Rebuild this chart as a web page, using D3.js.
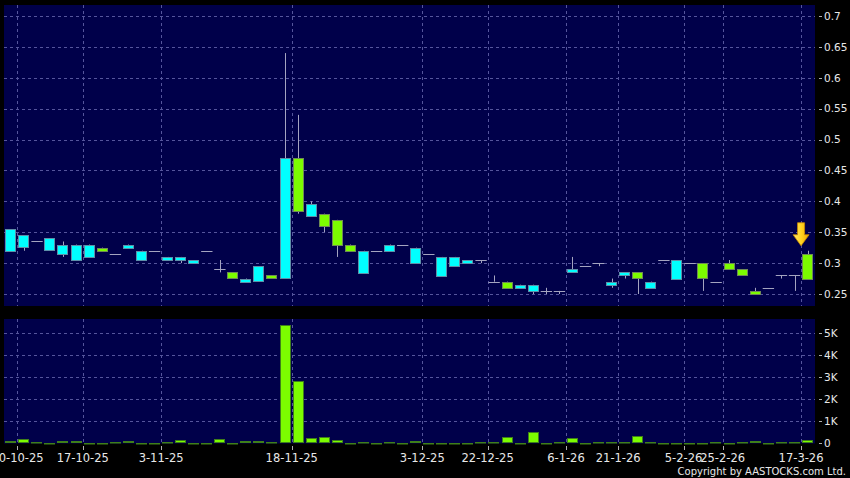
<!DOCTYPE html>
<html><head><meta charset="utf-8">
<script src="https://cdn.jsdelivr.net/npm/d3@7"></script>
<style>html,body{margin:0;padding:0;background:#000;} svg{display:block;}</style>
</head><body>
<script>
// ---- data ----
const opens  = [0.32,0.325,0.335,0.32,0.315,0.305,0.31,0.325,0.315,0.325,0.305,0.32,0.305,0.305,0.30,0.32,0.29,0.285,0.27,0.27,0.28,
                0.275,0.47,0.375,0.38,0.37,0.33,0.285,0.32,0.32,0.33,0.30,0.315,0.28,0.295,0.30,0.305,0.27,0.27,0.26,0.255,0.255,0.255,
                0.285,0.295,0.30,0.265,0.28,0.285,0.26,0.305,0.275,0.30,0.30,0.27,0.30,0.29,0.255,0.26,0.28,0.28,0.315];
const closes = [0.355,0.345,0.335,0.34,0.33,0.33,0.33,0.32,0.315,0.33,0.32,0.32,0.31,0.31,0.305,0.32,0.29,0.275,0.275,0.295,0.275,
                0.47,0.385,0.395,0.36,0.33,0.32,0.32,0.32,0.33,0.33,0.325,0.315,0.31,0.31,0.305,0.305,0.27,0.26,0.265,0.265,0.255,0.255,
                0.29,0.295,0.30,0.27,0.285,0.275,0.27,0.305,0.305,0.30,0.275,0.27,0.29,0.28,0.25,0.26,0.28,0.28,0.275];
const highs  = [0.355,0.345,0.335,0.34,0.335,0.33,0.33,0.325,0.315,0.33,0.32,0.32,0.31,0.31,0.305,0.32,0.305,0.285,0.275,0.295,0.28,
                0.64,0.54,0.40,0.38,0.37,0.33,0.32,0.32,0.33,0.33,0.325,0.315,0.31,0.31,0.305,0.305,0.28,0.27,0.265,0.265,0.26,0.255,
                0.31,0.295,0.30,0.275,0.285,0.285,0.27,0.305,0.305,0.30,0.30,0.27,0.305,0.29,0.26,0.26,0.28,0.28,0.32];
const lows   = [0.32,0.32,0.335,0.32,0.31,0.305,0.31,0.32,0.315,0.325,0.305,0.32,0.305,0.30,0.30,0.32,0.285,0.275,0.27,0.27,0.275,
                0.275,0.38,0.375,0.35,0.31,0.32,0.285,0.32,0.32,0.33,0.30,0.315,0.28,0.295,0.30,0.30,0.27,0.26,0.26,0.25,0.25,0.25,
                0.285,0.295,0.295,0.26,0.275,0.25,0.26,0.305,0.275,0.30,0.255,0.27,0.29,0.28,0.25,0.26,0.275,0.255,0.275];
const volumes = [100,180,60,5,100,90,5,5,60,90,5,5,50,150,5,5,200,5,100,100,50,
                 5380,2830,260,270,150,10,50,30,50,10,90,5,5,20,10,50,70,290,10,515,10,50,
                 260,5,50,50,50,330,50,10,30,20,20,50,10,50,90,10,40,40,170];
const tickIdx    = [1,6,12,22,32,37,43,47,52,55,61];
const tickLabels = ["10-10-25","17-10-25","3-11-25","18-11-25","3-12-25","22-12-25","6-1-26","21-1-26","5-2-26","25-2-26","17-3-26"];
const priceTicks = [0.25,0.3,0.35,0.4,0.45,0.5,0.55,0.6,0.65,0.7];
const volTicks   = [0,1000,2000,3000,4000,5000];
const volTickLabels = ["0","1K","2K","3K","4K","5K"];

// ---- layout ----
const W = 850, H = 478;
const panelL = 4, panelR = 815;
const pTop = 5, pBot = 306;
const vTop = 319, vBot = 443.5;
const BG = "#00004a";

const svg = d3.select("body").append("svg").attr("width", W).attr("height", H)
  .style("background", "#000").style("font-family", "'DejaVu Sans', Verdana, sans-serif");

const n = opens.length;
const x = d3.scaleBand().domain(d3.range(n)).range([4.4, 814.1]).paddingInner(0.13).paddingOuter(0.065);
const bw = x.bandwidth();
const gap = (x.step() - bw) / 2;
const yP = d3.scaleLinear().domain([0.25, 0.7]).range([294, 16]);
const yV = d3.scaleLinear().domain([0, 5000]).range([443.3, 333.3]);

// panels
svg.append("rect").attr("x", panelL).attr("y", pTop).attr("width", panelR - panelL).attr("height", pBot - pTop).attr("fill", BG);
svg.append("rect").attr("x", panelL).attr("y", vTop).attr("width", panelR - panelL).attr("height", vBot - vTop).attr("fill", BG);

const gridColor = "#55559c";
const grid = svg.append("g").attr("stroke", gridColor).attr("stroke-width", 1).attr("stroke-dasharray", "3,3");
// horizontal price grid
grid.selectAll(".hp").data(priceTicks).join("line")
  .attr("x1", panelL).attr("x2", panelR)
  .attr("y1", d => Math.round(yP(d)) + 0.5).attr("y2", d => Math.round(yP(d)) + 0.5);
// horizontal volume grid
grid.selectAll(".hv").data(volTicks.slice(1)).join("line")
  .attr("x1", panelL).attr("x2", panelR)
  .attr("y1", d => Math.round(yV(d)) + 0.5).attr("y2", d => Math.round(yV(d)) + 0.5);
// vertical grid
const gx = i => Math.round(x(i) - gap) + 0.5;
grid.selectAll(".vp").data(tickIdx).join("line")
  .attr("x1", gx).attr("x2", gx).attr("y1", pTop).attr("y2", pBot);
grid.selectAll(".vv").data(tickIdx).join("line")
  .attr("x1", gx).attr("x2", gx).attr("y1", vTop).attr("y2", vBot);

// candles
const cand = svg.append("g");
const idx = d3.range(n);
const wickColor = "#a4a4c0";
cand.selectAll(".wick").data(idx.filter(i => highs[i] > lows[i])).join("line")
  .attr("x1", i => Math.round(x(i) + bw / 2) + 0.5).attr("x2", i => Math.round(x(i) + bw / 2) + 0.5)
  .attr("y1", i => yP(highs[i])).attr("y2", i => yP(lows[i]))
  .attr("stroke", wickColor).attr("stroke-width", 1);
// flat (open == close)
cand.selectAll(".flat").data(idx.filter(i => opens[i] === closes[i])).join("line")
  .attr("x1", i => x(i)).attr("x2", i => x(i) + bw)
  .attr("y1", i => Math.round(yP(opens[i])) + 0.5).attr("y2", i => Math.round(yP(opens[i])) + 0.5)
  .attr("stroke", wickColor).attr("stroke-width", 1);
// bodies
cand.selectAll(".body").data(idx.filter(i => opens[i] !== closes[i])).join("rect")
  .attr("x", i => Math.round(x(i)) + 0.5)
  .attr("width", Math.round(bw) - 1)
  .attr("y", i => Math.round(yP(Math.max(opens[i], closes[i]))) + 0.5)
  .attr("height", i => Math.max(1, Math.round(Math.abs(yP(opens[i]) - yP(closes[i])))))
  .attr("fill", i => closes[i] > opens[i] ? "#00ffff" : "#7cfc00")
  .attr("stroke", i => closes[i] > opens[i] ? "#5d8fa8" : "#6f8a55")
  .attr("stroke-width", 1);

// volume bars
svg.append("g").selectAll("rect").data(idx).join("rect")
  .attr("x", i => Math.round(x(i)) + 0.5)
  .attr("width", Math.round(bw) - 1)
  .attr("y", i => Math.round(yV(volumes[i])) + 0.5)
  .attr("height", i => Math.max(0.5, Math.round(yV(0)) - Math.round(yV(volumes[i])) - 1))
  .attr("fill", "#7cfc00").attr("stroke", "#3f7f1a").attr("stroke-width", 1);

// arrow marker above last candle
const defs = svg.append("defs");
const lg = defs.append("linearGradient").attr("id", "arr").attr("x1", 0).attr("x2", 1).attr("y1", 0).attr("y2", 0);
lg.append("stop").attr("offset", "0%").attr("stop-color", "#ffe96a");
lg.append("stop").attr("offset", "55%").attr("stop-color", "#ffd21c");
lg.append("stop").attr("offset", "100%").attr("stop-color", "#e9a200");
const last = n - 1;
const ax = x(last) + bw / 2 - 6.5;
const ay = yP(highs[last]) - 5;
svg.append("path")
  .attr("transform", `translate(${ax},${ay})`)
  .attr("d", "M-3.5,-23 L3.5,-23 L3.5,-11 L8,-11 L0,0 L-8,-11 L-3.5,-11 Z")
  .attr("fill", "url(#arr)").attr("stroke", "#c98a00").attr("stroke-width", 0.8);

// right axes
const axisText = "#e8e8e8";
const tickColor = "#b0b0b0";
const ra = svg.append("g");
ra.selectAll(".pt").data(priceTicks).join("line")
  .attr("x1", 819).attr("x2", 822).attr("y1", d => Math.round(yP(d)) + 0.5).attr("y2", d => Math.round(yP(d)) + 0.5)
  .attr("stroke", tickColor);
ra.selectAll(".pl").data(priceTicks).join("text")
  .attr("x", 824).attr("y", d => yP(d)).attr("dy", "0.36em")
  .attr("fill", axisText).attr("font-size", "10.5px").text(d => String(d));
ra.selectAll(".vt").data(volTicks).join("line")
  .attr("x1", 819).attr("x2", 822).attr("y1", d => Math.round(yV(d)) + 0.5).attr("y2", d => Math.round(yV(d)) + 0.5)
  .attr("stroke", tickColor);
ra.selectAll(".vl").data(volTicks).join("text")
  .attr("x", 824).attr("y", d => yV(d)).attr("dy", "0.36em")
  .attr("fill", axisText).attr("font-size", "10.5px").text((d, i) => volTickLabels[i]);

// bottom axis
const ba = svg.append("g");
ba.selectAll("line").data(tickIdx).join("line")
  .attr("x1", gx).attr("x2", gx).attr("y1", 446).attr("y2", 450).attr("stroke", tickColor);
ba.selectAll("text").data(tickIdx).join("text")
  .attr("x", i => x(i) - gap).attr("y", 462).attr("text-anchor", "middle")
  .attr("fill", axisText).attr("font-size", "11.5px").text((d, k) => tickLabels[k]);

svg.append("text").attr("x", 846).attr("y", 475).attr("text-anchor", "end")
  .attr("fill", axisText).attr("font-size", "10px").text("Copyright by AASTOCKS.com Ltd.");
</script>
</body></html>
